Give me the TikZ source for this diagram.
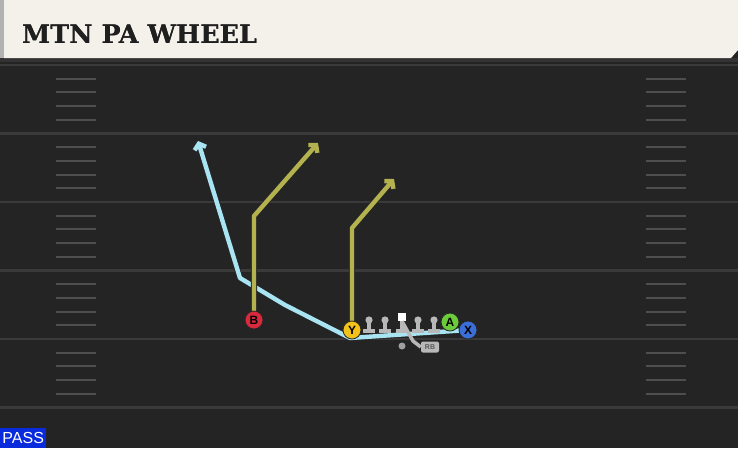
\documentclass[tikz,border=0pt]{standalone}
\usepackage{fontspec}
\usepackage[outline]{contour}
\newfontfamily\titlefont{DejaVu Serif Bold}
\newfontfamily\tagfont{Liberation Sans}
\usetikzlibrary{arrows.meta,positioning}
\definecolor{turf}{HTML}{242424}
\definecolor{yardgray}{HTML}{3A3A3A}
\definecolor{cream}{HTML}{F3F1EA}
\definecolor{ink}{HTML}{1F1F1F}
\definecolor{passblue}{HTML}{0A2BDB}
\definecolor{ycol}{HTML}{F2C21B}
\definecolor{bcol}{HTML}{D82A3C}
\definecolor{acol}{HTML}{6BCB3A}
\definecolor{xcol}{HTML}{3A6FD8}
\definecolor{olive}{HTML}{B3B24E}
\definecolor{wheelblue}{HTML}{A8E4F2}
\definecolor{olgray}{HTML}{B8B8B8}
\contourlength{1.2pt}
\pgfdeclarelayer{turf}
\pgfdeclarelayer{routes}
\pgfsetlayers{turf,routes,main}

\begin{document}
\begin{tikzpicture}[x=1pt,y=-1pt,
    player/.style={circle,draw=black!85,line width=0.8pt,minimum size=18pt,inner sep=0pt,
      font=\tagfont\bfseries\fontsize{12}{12}\selectfont},
    route/.style={line width=4.4pt,line cap=round,line join=round,-{Straight Barb[length=5pt,width=12pt]}},
    hash/.style={yardgray!90,line width=2pt},
    yard/.style={yardgray,line width=2.5pt}]
      \def\yd{68.5}
      \def\routeline#1#2{\draw[route,black!85,line width=6.2pt] #2; \draw[route,#1] #2;}
      \useasboundingbox (0,0) rectangle (738,448);
      \begin{pgfonlayer}{turf}
        \fill[turf] (0,0) rectangle (738,448);
        \foreach \k in {0,...,5} {
          \draw[yard] (0,{65+\yd*\k}) -- (738,{65+\yd*\k});
        }
        \foreach \k in {0,...,4} {
          \foreach \j in {1,...,4} {
            \draw[hash] (56,{65+\yd*\k+\yd/5*\j}) -- (96,{65+\yd*\k+\yd/5*\j});
            \draw[hash] (646,{65+\yd*\k+\yd/5*\j}) -- (686,{65+\yd*\k+\yd/5*\j});
          }
        }
        \fill[black!80] (0,58) rectangle (738,62);
        \fill[cream] (4,0) -- (738,0) -- (738,50) -- (731,58) -- (4,58) -- cycle;
        \fill[black!30] (0,0) rectangle (4,58);
      \end{pgfonlayer}
      \node[anchor=base west,text=ink,inner sep=0pt,font=\titlefont\fontsize{25.5}{25.5}\selectfont]
        (title) at (22,43) {\contour{ink}{MTN PA WHEEL}};
      \node[anchor=south west,fill=passblue,text=white,minimum width=46pt,minimum height=20pt,inner sep=0pt,
        font=\tagfont\fontsize{16}{16}\selectfont] (pass) at (0,448) {PASS};
      \begin{scope}
        \foreach \x in {369,385,418,434} {
          \draw[olgray,line width=4pt] (\x,320) -- (\x,330);
          \draw[olgray,line width=4pt] (\x-6,331) -- (\x+6,331);
          \fill[olgray] (\x,320) circle (3.6pt);
        }
        \draw[olgray,line width=4pt] (402,320) -- (402,330);
        \draw[olgray,line width=4pt] (396,331) -- (408,331);
      \end{scope}
      \node[fill=white,minimum size=8pt,inner sep=0pt] (C) at (402,317) {};
      \node[circle,fill=gray!75,minimum size=7pt,inner sep=0pt] (QB) at (402,346) {};
      \node[fill=olgray,rounded corners=2pt,minimum width=18pt,minimum height=11pt,inner sep=0pt,
        text=black!65,font=\tagfont\bfseries\fontsize{7}{7}\selectfont] (RB) at (430,347) {RB};
      \coordinate (rbk) at (413,341);
      \draw[olgray,line width=3.5pt,line join=round] (C.south) -- (rbk) -- (RB.west);
      \node[player,fill=bcol] (B) at (254,320) {B};
      \node[player,fill=ycol] (Y) at (352,330) {Y};
      \node[player,fill=acol] (A) at (450,322) {A};
      \node[player,fill=xcol] (X) at (468,330) {X};
      \coordinate (bbrk) at (254,216);
      \coordinate (bend) at (318,143);
      \coordinate (ybrk) at (352,228);
      \coordinate (yend) at (394,179);
      \coordinate (w0) at (350,338);
      \coordinate (w1) at (285,305);
      \coordinate (w2) at (240,278);
      \coordinate (wend) at (198,141);
      \begin{pgfonlayer}{routes}
        \routeline{wheelblue}{(X) -- (w0) -- (w1) -- (w2) -- (wend)}
        \routeline{olive}{(B) -- (bbrk) -- (bend)}
        \routeline{olive}{(Y) -- (ybrk) -- (yend)}
      \end{pgfonlayer}
    \end{tikzpicture}
\end{document}
